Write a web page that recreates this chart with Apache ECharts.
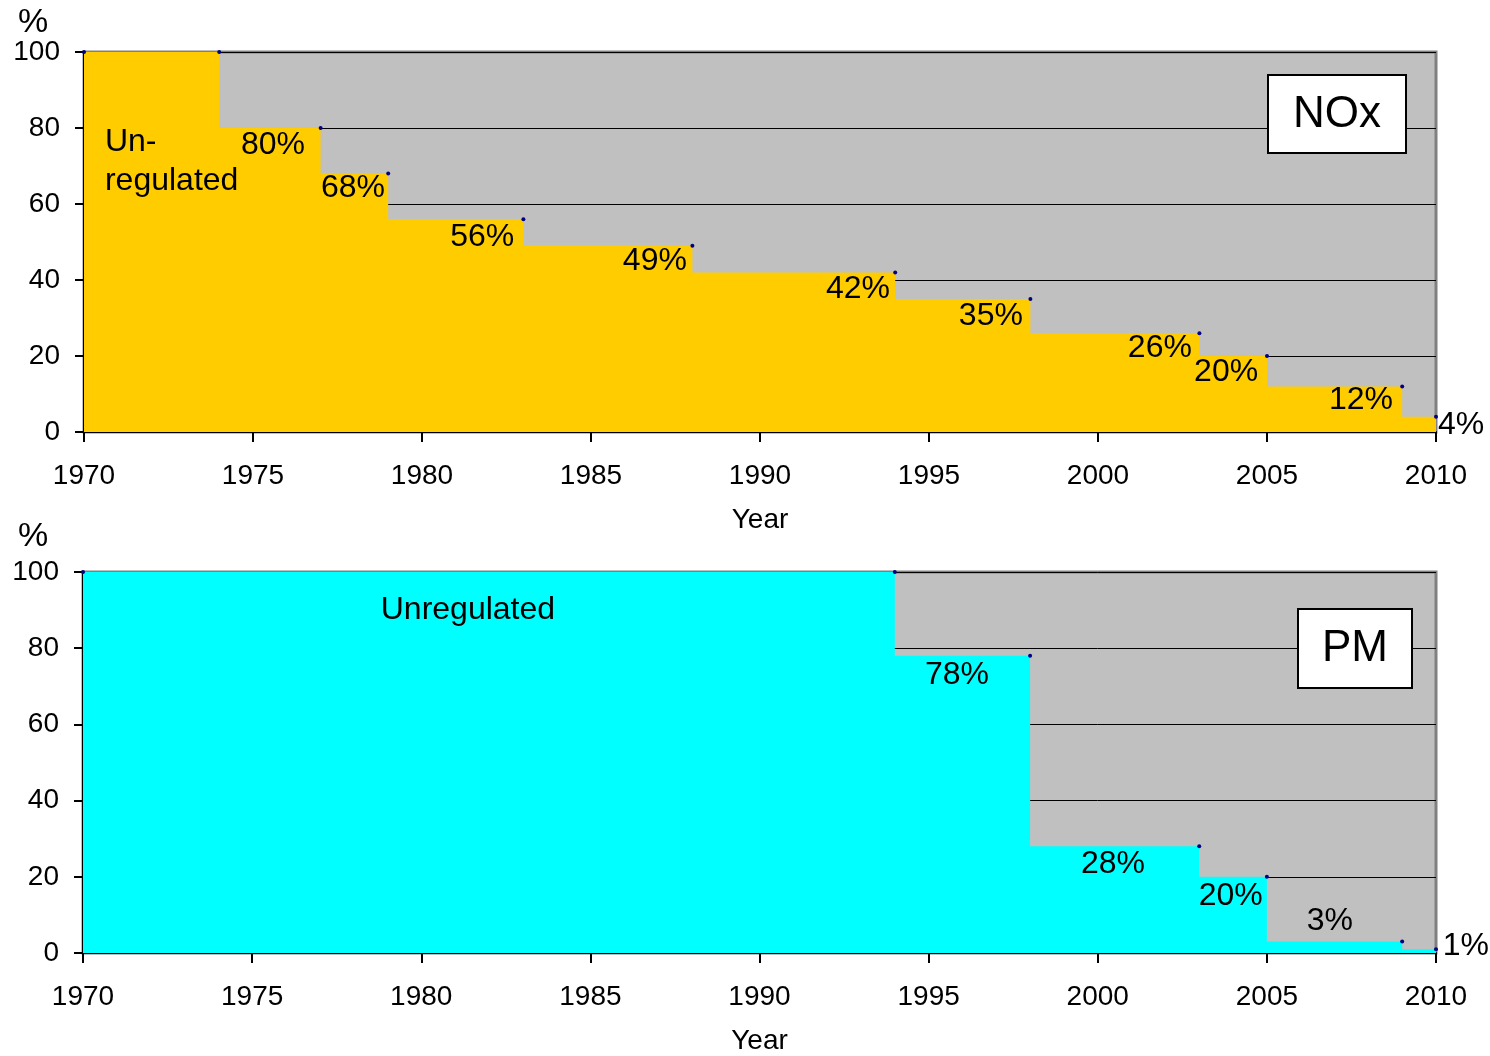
<!DOCTYPE html>
<html>
<head>
<meta charset="utf-8">
<script src="https://cdn.jsdelivr.net/npm/echarts@6/dist/echarts.min.js"></script>
<style>
html,body{margin:0;padding:0;background:#fff;}
#c{width:1490px;height:1056px;}
</style>
</head>
<body>
<div id="c"></div>
<script>
// ---- data ----
const noxYears = [1970, 1974, 1977, 1979, 1983, 1988, 1994, 1998, 2003, 2005, 2009, 2010];
const noxValues = [100, 100, 80, 68, 56, 49, 42, 35, 26, 20, 12, 4];
const pmYears = [1970, 1994, 1998, 2003, 2005, 2009, 2010];
const pmValues = [100, 100, 78, 28, 20, 3, 1];
const noxLabelText = ['Un-\nregulated', '80%', '68%', '56%', '49%', '42%', '35%', '26%', '20%', '12%', '4%'];
const noxLabelX = [1970.62, 1975.59, 1977.96, 1981.78, 1986.89, 1992.9, 1996.83, 2001.83, 2003.79, 2007.78, 2010.74];
const noxLabelY = [71.1, 75.5, 64.2, 51.3, 45.0, 37.6, 30.5, 22.1, 15.8, 8.4, 1.8];
const pmLabelText = ['Unregulated', '78%', '28%', '20%', '3%', '1%'];
const pmLabelX = [1981.38, 1995.84, 2000.45, 2003.93, 2006.86, 2010.88];
const pmLabelY = [90.1, 72.9, 23.2, 14.8, 8.3, 1.8];
const xTicks = [1970, 1975, 1980, 1985, 1990, 1995, 2000, 2005, 2010];
const yTicks = [0, 20, 40, 60, 80, 100];

const FONT = '"Liberation Sans", Arial, sans-serif';

function xAxisFor(gridIndex) {
  return {
    type: 'value', gridIndex: gridIndex, min: xTicks[0], max: xTicks[xTicks.length - 1], interval: 5,
    name: 'Year', nameLocation: 'middle', nameGap: 74,
    nameTextStyle: {fontFamily: FONT, fontSize: 28, color: '#000'},
    axisLine: {show: true, onZero: false, lineStyle: {color: '#000', width: 2}},
    axisTick: {show: true, inside: false, length: 10, lineStyle: {color: '#000', width: 2}},
    axisLabel: {fontFamily: FONT, fontSize: 28, color: '#000', margin: 30, formatter: v => String(v)},
    splitLine: {show: false}
  };
}
function yAxisFor(gridIndex) {
  return {
    type: 'value', gridIndex: gridIndex, min: yTicks[0], max: yTicks[yTicks.length - 1], interval: 20,
    axisLine: {show: true, lineStyle: {color: '#000', width: 2}},
    axisTick: {show: true, inside: false, length: 9, lineStyle: {color: '#000', width: 2}},
    axisLabel: {fontFamily: FONT, fontSize: 28, color: '#000', margin: 24},
    splitLine: {show: true, lineStyle: {color: '#000', width: 1}}
  };
}
function stepSeries(idx, years, values, color) {
  return {
    type: 'line', xAxisIndex: idx, yAxisIndex: idx, step: 'start',
    data: years.map((y, i) => [y, values[i]]),
    symbol: 'circle', symbolSize: 4, showSymbol: true,
    itemStyle: {color: '#000080'},
    lineStyle: {width: 0, opacity: 0},
    areaStyle: {color: color, opacity: 1},
    z: 2, silent: true, animation: false
  };
}
function labelSeries(idx, xs, ys, texts) {
  return {
    type: 'scatter', xAxisIndex: idx, yAxisIndex: idx, clip: false,
    symbolSize: 1, itemStyle: {color: 'rgba(0,0,0,0)', opacity: 1},
    data: xs.map((x, i) => {
      const multi = texts[i].indexOf('\n') >= 0;
      return {
        value: [x, ys[i]],
        label: {
          show: true, position: 'inside', formatter: texts[i],
          align: multi ? 'left' : 'center', verticalAlign: 'middle',
          fontFamily: FONT, fontSize: 32, color: '#000', lineHeight: 39,
          opacity: 1, textBorderWidth: 0, textShadowBlur: 0
        }
      };
    }),
    z: 5, silent: true, animation: false
  };
}

const chart = echarts.init(document.getElementById('c'));
chart.setOption({
  animation: false,
  backgroundColor: '#fff',
  grid: [
    {left: 84, right: 54, top: 52, height: 380, show: true, backgroundColor: '#C0C0C0', borderColor: '#808080', borderWidth: 3},
    {left: 83, right: 54, top: 572, height: 384, show: true, backgroundColor: '#C0C0C0', borderColor: '#808080', borderWidth: 3}
  ],
  xAxis: [xAxisFor(0), xAxisFor(1)],
  yAxis: [yAxisFor(0), yAxisFor(1)],
  series: [
    stepSeries(0, noxYears, noxValues, '#FFCC00'),
    stepSeries(1, pmYears, pmValues, '#00FFFF'),
    labelSeries(0, noxLabelX, noxLabelY, noxLabelText),
    labelSeries(1, pmLabelX, pmLabelY, pmLabelText)
  ],
  graphic: [
    {type: 'text', left: 18, top: 6, style: {text: '%', font: '34px ' + FONT, fill: '#000'}},
    {type: 'text', left: 18, top: 520, style: {text: '%', font: '34px ' + FONT, fill: '#000'}},
    {type: 'rect', shape: {x: 1268, y: 75, width: 138, height: 78}, style: {fill: '#fff', stroke: '#000', lineWidth: 2}, z: 10},
    {type: 'text', x: 1337, y: 115, style: {text: 'NOx', font: '44px ' + FONT, fill: '#000', align: 'center', verticalAlign: 'middle'}, z: 11},
    {type: 'rect', shape: {x: 1298, y: 609, width: 114, height: 79}, style: {fill: '#fff', stroke: '#000', lineWidth: 2}, z: 10},
    {type: 'text', x: 1355, y: 649, style: {text: 'PM', font: '44px ' + FONT, fill: '#000', align: 'center', verticalAlign: 'middle'}, z: 11}
  ]
});
</script>
</body>
</html>
